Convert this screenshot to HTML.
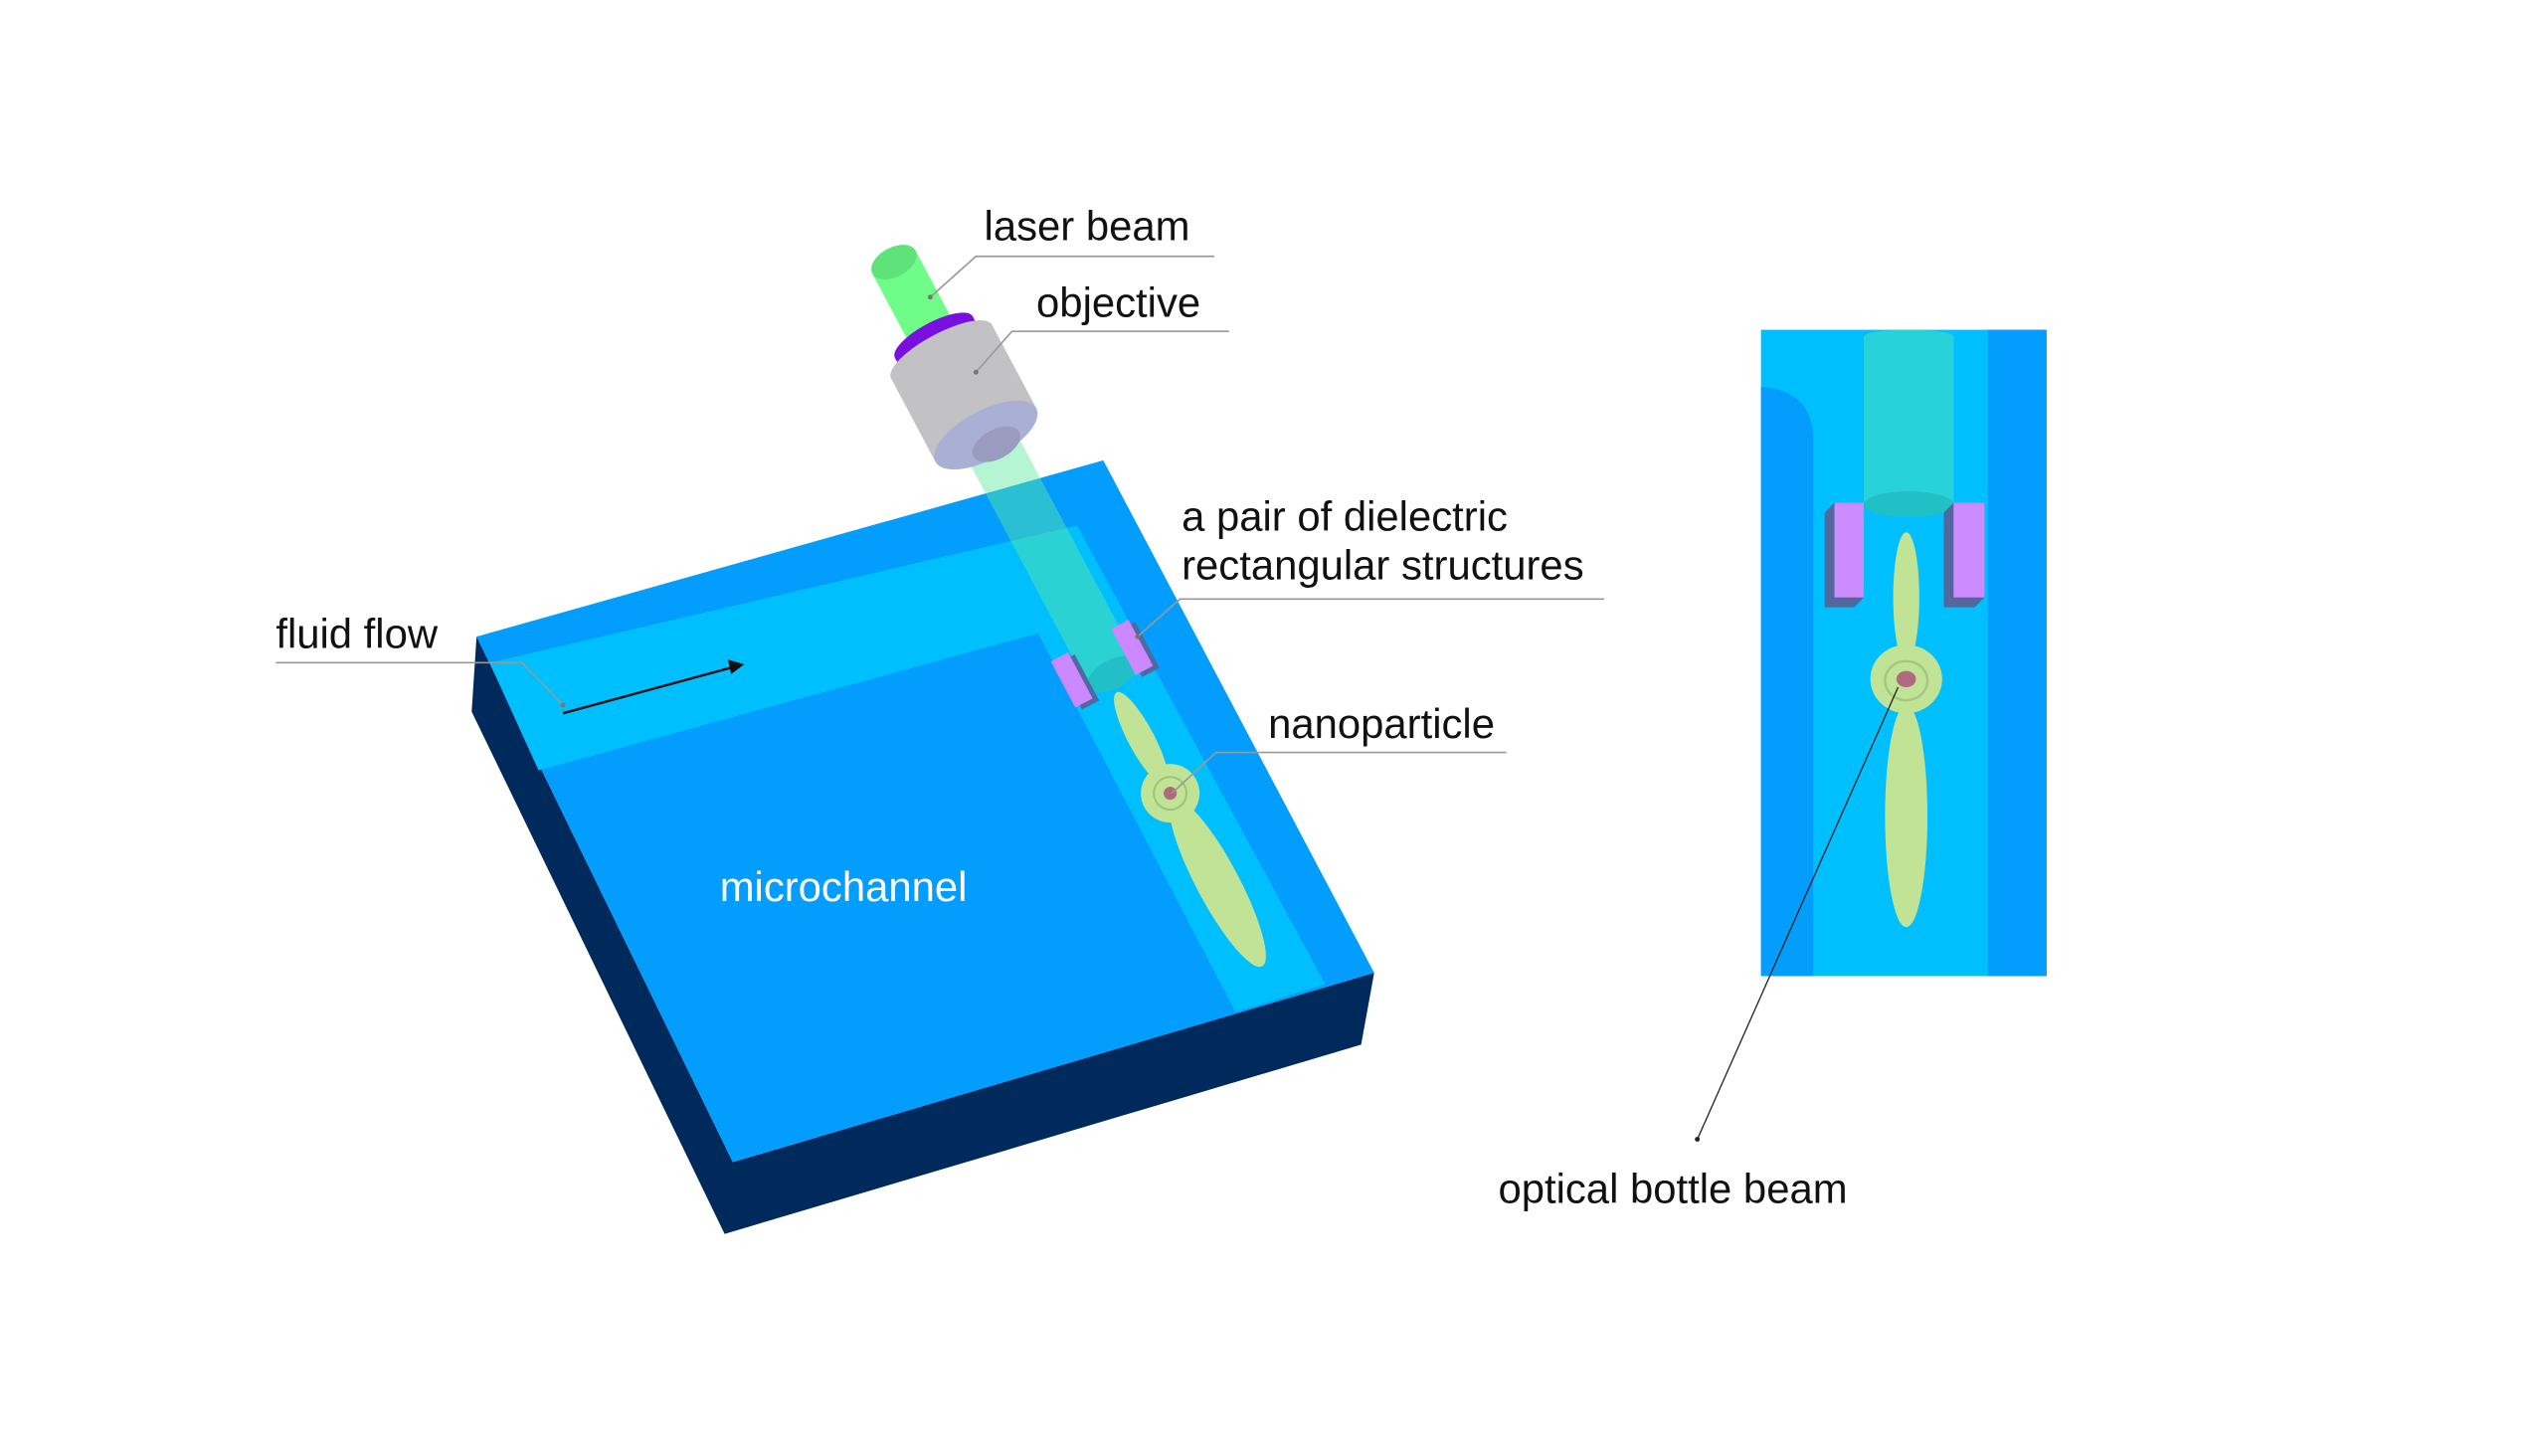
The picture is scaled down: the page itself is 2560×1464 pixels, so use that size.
<!DOCTYPE html>
<html><head><meta charset="utf-8"><style>
html,body{margin:0;padding:0;background:#fff;}
svg{display:block;}
text{font-family:"Liberation Sans",sans-serif;}
</style></head><body>
<svg width="2560" height="1464" viewBox="0 0 1560 892" xmlns="http://www.w3.org/2000/svg">
<rect width="1560" height="892" fill="#fff"/>
<!-- chip -->
<polygon points="292,390 289,436 444,756 834,640 842,596 449,712" fill="#002a5c"/>
<polygon points="292,390 676,282 842,596 449,712" fill="#039dfd"/>
<polygon points="300,406 660,322 812,603 757,620 636,388 330,472" fill="#00bfff"/>
<!-- beam -->
<g transform="translate(590,240) rotate(-28)">
  <rect x="-17" y="30" width="34" height="166" fill="#5ee8a0" opacity="0.45"/>
  <ellipse cx="0" cy="196" rx="17" ry="9" fill="#22bfc8"/>
</g>
<!-- structures -->
<g transform="translate(658,417) rotate(-28)">
  <rect x="-4" y="-14" width="12" height="32" fill="#4f6aa0"/>
  <rect x="-7" y="-17" width="12" height="32" fill="#cc88ff"/>
</g>
<g transform="translate(695,397) rotate(-28)">
  <rect x="-4" y="-14" width="12" height="32" fill="#4f6aa0"/>
  <rect x="-7" y="-17" width="12" height="32" fill="#cc88ff"/>
</g>
<!-- particle -->
<g transform="translate(717,486) rotate(-28)">
  <ellipse cx="0" cy="-38" rx="8" ry="32" fill="#c0e396"/>
  <ellipse cx="0" cy="62" rx="13" ry="58" fill="#c0e396"/>
  <circle r="18" fill="#c0e396"/>
  <circle r="10" fill="none" stroke="#9fc27a" stroke-width="1.2"/>
  <circle r="4" fill="#b06a7a"/>
</g>
<!-- objective -->
<g transform="translate(590,240) rotate(-28)">
  <rect x="-15" y="-90" width="30" height="58" fill="#70fc88"/>
  <ellipse cx="0" cy="-90" rx="15" ry="9" fill="#5fe27a"/>
  <rect x="-27" y="-38" width="54" height="10" fill="#7a10e0"/>
  <ellipse cx="0" cy="-28" rx="27" ry="9" fill="#7a10e0"/>
  <ellipse cx="0" cy="-38" rx="27" ry="9" fill="#7a10e0"/>
  <rect x="-35" y="-28" width="70" height="58" fill="#c2c2c4"/>
  <ellipse cx="0" cy="-28" rx="35" ry="11" fill="#c2c2c4"/>
  <ellipse cx="0" cy="30" rx="35" ry="15" fill="#aab0d4"/>
  <ellipse cx="3" cy="38" rx="16" ry="9" fill="#9a9cbf"/>
</g>
<!-- arrow -->
<line x1="345" y1="437" x2="448" y2="409" stroke="#111" stroke-width="1.5"/>
<polygon points="456,407 446,404 448,413" fill="#111"/>
<!-- leaders -->
<g fill="none" stroke="#999" stroke-width="1">
<polyline points="570,182 598,157 744,157"/>
<polyline points="598,228 620,203 753,203"/>
<polyline points="697,390 723,367 983,367"/>
<polyline points="718,486 745,461 923,461"/>
<polyline points="169,406 320,406 345,432"/>
</g>
<g fill="#777"><circle cx="570" cy="182" r="1.5"/><circle cx="598" cy="228" r="1.5"/><circle cx="697" cy="390" r="1.5"/><circle cx="345" cy="432" r="1.5"/></g>
<!-- labels -->
<g font-size="25.5" fill="#111">
<text x="603" y="147">laser beam</text>
<text x="635" y="194">objective</text>
<text x="724" y="325">a pair of dielectric</text>
<text x="724" y="355">rectangular structures</text>
<text x="777" y="452">nanoparticle</text>
<text x="169" y="397">fluid flow</text>
<text x="918" y="737">optical bottle beam</text>
</g>
<text x="441" y="552" font-size="25.5" fill="#fff">microchannel</text>
<!-- inset -->
<rect x="1079" y="202" width="175" height="396" fill="#00bfff"/>
<rect x="1218" y="202" width="36" height="396" fill="#039dfd"/>
<path d="M1079,237 L1081,237 Q1111,240 1111,270 L1111,598 L1079,598 Z" fill="#039dfd"/>
<rect x="1142" y="206" width="55" height="103" fill="#27d3d9"/>
<ellipse cx="1169.5" cy="206" rx="27.5" ry="4" fill="#27d3d9"/>
<ellipse cx="1169.5" cy="309" rx="27.5" ry="8" fill="#21bfc6"/>
<polygon points="1118,314 1124,308 1142,308 1142,366 1136,372 1118,372" fill="#52679c"/>
<rect x="1124" y="308" width="18" height="58" fill="#cc8cff"/>
<polygon points="1191,314 1197,308 1216,308 1216,366 1210,372 1191,372" fill="#52679c"/>
<rect x="1197" y="308" width="19" height="58" fill="#cc8cff"/>
<ellipse cx="1168" cy="366" rx="8" ry="40" fill="#c0e396"/>
<ellipse cx="1168" cy="500" rx="13" ry="68" fill="#c0e396"/>
<ellipse cx="1168" cy="416" rx="22" ry="21" fill="#c0e396"/>
<ellipse cx="1168" cy="417" rx="13" ry="12" fill="none" stroke="#a5c880" stroke-width="1.5"/>
<ellipse cx="1168" cy="416" rx="6" ry="5" fill="#b06a7e"/>
<line x1="1040" y1="698" x2="1163" y2="421" stroke="#222" stroke-width="0.8"/>
<circle cx="1040" cy="698" r="1.5" fill="#222"/>
</svg>
</body></html>
